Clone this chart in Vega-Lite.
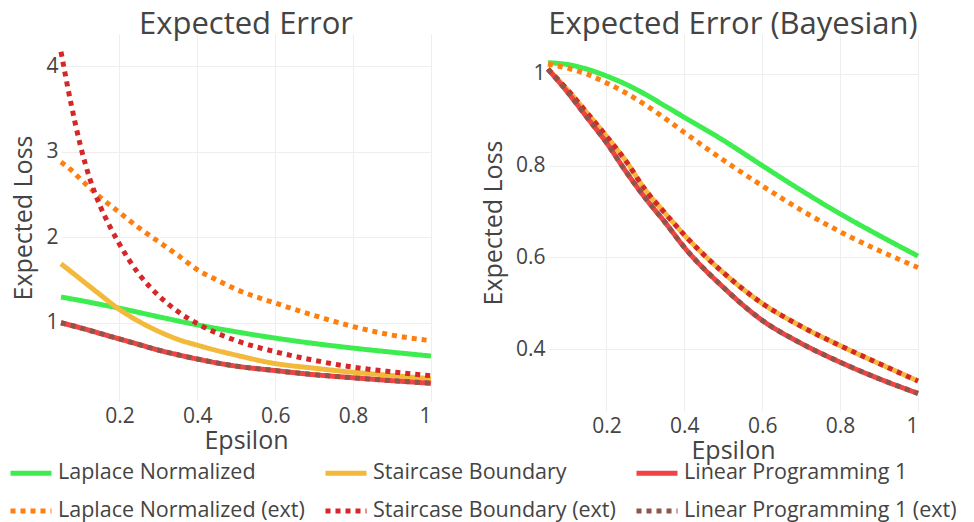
{
  "$schema": "https://vega.github.io/schema/vega-lite/v6.json",
  "padding": {"left": 8, "top": 9, "right": 4, "bottom": 0},
  "background": "white",
  "config": {
    "font": "Open Sans",
    "view": {"stroke": null},
    "axis": {"labelFont": "Open Sans", "labelFontSize": 21, "labelColor": "#444", "titleFont": "Open Sans", "titleFontSize": 25, "titleFontWeight": "normal", "titleColor": "#444", "gridColor": "#eeeeee", "gridWidth": 1, "domain": false, "ticks": false, "labelPadding": 4},
    "axisX": {"titlePadding": 2},
    "axisY": {"titlePadding": 9, "labelPadding": 3},
    "title": {"font": "Open Sans", "fontSize": 31, "fontWeight": "normal", "color": "#444", "frame": "group", "anchor": "middle", "baseline": "alphabetic", "offset": -7}
  },
  "datasets": {
    "d": [
      {"p": "std", "s": "Laplace Normalized", "e": 0.05, "v": 1.30},
      {"p": "std", "s": "Laplace Normalized", "e": 0.1, "v": 1.26},
      {"p": "std", "s": "Laplace Normalized", "e": 0.15, "v": 1.215},
      {"p": "std", "s": "Laplace Normalized", "e": 0.2, "v": 1.17},
      {"p": "std", "s": "Laplace Normalized", "e": 0.3, "v": 1.07},
      {"p": "std", "s": "Laplace Normalized", "e": 0.4, "v": 0.975},
      {"p": "std", "s": "Laplace Normalized", "e": 0.5, "v": 0.893},
      {"p": "std", "s": "Laplace Normalized", "e": 0.6, "v": 0.82},
      {"p": "std", "s": "Laplace Normalized", "e": 0.7, "v": 0.757},
      {"p": "std", "s": "Laplace Normalized", "e": 0.8, "v": 0.703},
      {"p": "std", "s": "Laplace Normalized", "e": 0.9, "v": 0.655},
      {"p": "std", "s": "Laplace Normalized", "e": 1.0, "v": 0.61},

      {"p": "std", "s": "Staircase Boundary", "e": 0.05, "v": 1.69},
      {"p": "std", "s": "Staircase Boundary", "e": 0.1, "v": 1.51},
      {"p": "std", "s": "Staircase Boundary", "e": 0.15, "v": 1.33},
      {"p": "std", "s": "Staircase Boundary", "e": 0.2, "v": 1.155},
      {"p": "std", "s": "Staircase Boundary", "e": 0.25, "v": 1.015},
      {"p": "std", "s": "Staircase Boundary", "e": 0.3, "v": 0.90},
      {"p": "std", "s": "Staircase Boundary", "e": 0.35, "v": 0.805},
      {"p": "std", "s": "Staircase Boundary", "e": 0.4, "v": 0.737},
      {"p": "std", "s": "Staircase Boundary", "e": 0.5, "v": 0.62},
      {"p": "std", "s": "Staircase Boundary", "e": 0.6, "v": 0.522},
      {"p": "std", "s": "Staircase Boundary", "e": 0.7, "v": 0.468},
      {"p": "std", "s": "Staircase Boundary", "e": 0.8, "v": 0.42},
      {"p": "std", "s": "Staircase Boundary", "e": 0.9, "v": 0.382},
      {"p": "std", "s": "Staircase Boundary", "e": 1.0, "v": 0.345},

      {"p": "std", "s": "Linear Programming 1", "e": 0.05, "v": 1.0},
      {"p": "std", "s": "Linear Programming 1", "e": 0.1, "v": 0.94},
      {"p": "std", "s": "Linear Programming 1", "e": 0.15, "v": 0.875},
      {"p": "std", "s": "Linear Programming 1", "e": 0.2, "v": 0.81},
      {"p": "std", "s": "Linear Programming 1", "e": 0.25, "v": 0.745},
      {"p": "std", "s": "Linear Programming 1", "e": 0.3, "v": 0.68},
      {"p": "std", "s": "Linear Programming 1", "e": 0.35, "v": 0.625},
      {"p": "std", "s": "Linear Programming 1", "e": 0.4, "v": 0.575},
      {"p": "std", "s": "Linear Programming 1", "e": 0.5, "v": 0.492},
      {"p": "std", "s": "Linear Programming 1", "e": 0.6, "v": 0.44},
      {"p": "std", "s": "Linear Programming 1", "e": 0.7, "v": 0.392},
      {"p": "std", "s": "Linear Programming 1", "e": 0.8, "v": 0.356},
      {"p": "std", "s": "Linear Programming 1", "e": 0.9, "v": 0.322},
      {"p": "std", "s": "Linear Programming 1", "e": 1.0, "v": 0.292},

      {"p": "std", "s": "Laplace Normalized (ext)", "e": 0.05, "v": 2.88},
      {"p": "std", "s": "Laplace Normalized (ext)", "e": 0.075, "v": 2.79},
      {"p": "std", "s": "Laplace Normalized (ext)", "e": 0.1, "v": 2.68},
      {"p": "std", "s": "Laplace Normalized (ext)", "e": 0.15, "v": 2.47},
      {"p": "std", "s": "Laplace Normalized (ext)", "e": 0.2, "v": 2.29},
      {"p": "std", "s": "Laplace Normalized (ext)", "e": 0.25, "v": 2.11},
      {"p": "std", "s": "Laplace Normalized (ext)", "e": 0.3, "v": 1.95},
      {"p": "std", "s": "Laplace Normalized (ext)", "e": 0.35, "v": 1.79},
      {"p": "std", "s": "Laplace Normalized (ext)", "e": 0.4, "v": 1.62},
      {"p": "std", "s": "Laplace Normalized (ext)", "e": 0.45, "v": 1.50},
      {"p": "std", "s": "Laplace Normalized (ext)", "e": 0.5, "v": 1.39},
      {"p": "std", "s": "Laplace Normalized (ext)", "e": 0.6, "v": 1.23},
      {"p": "std", "s": "Laplace Normalized (ext)", "e": 0.7, "v": 1.085},
      {"p": "std", "s": "Laplace Normalized (ext)", "e": 0.8, "v": 0.955},
      {"p": "std", "s": "Laplace Normalized (ext)", "e": 0.9, "v": 0.855},
      {"p": "std", "s": "Laplace Normalized (ext)", "e": 1.0, "v": 0.79},

      {"p": "std", "s": "Staircase Boundary (ext)", "e": 0.05, "v": 4.17},
      {"p": "std", "s": "Staircase Boundary (ext)", "e": 0.075, "v": 3.58},
      {"p": "std", "s": "Staircase Boundary (ext)", "e": 0.1, "v": 3.07},
      {"p": "std", "s": "Staircase Boundary (ext)", "e": 0.125, "v": 2.67},
      {"p": "std", "s": "Staircase Boundary (ext)", "e": 0.15, "v": 2.37},
      {"p": "std", "s": "Staircase Boundary (ext)", "e": 0.175, "v": 2.13},
      {"p": "std", "s": "Staircase Boundary (ext)", "e": 0.2, "v": 1.92},
      {"p": "std", "s": "Staircase Boundary (ext)", "e": 0.25, "v": 1.57},
      {"p": "std", "s": "Staircase Boundary (ext)", "e": 0.3, "v": 1.32},
      {"p": "std", "s": "Staircase Boundary (ext)", "e": 0.35, "v": 1.13},
      {"p": "std", "s": "Staircase Boundary (ext)", "e": 0.4, "v": 0.99},
      {"p": "std", "s": "Staircase Boundary (ext)", "e": 0.5, "v": 0.79},
      {"p": "std", "s": "Staircase Boundary (ext)", "e": 0.6, "v": 0.66},
      {"p": "std", "s": "Staircase Boundary (ext)", "e": 0.7, "v": 0.56},
      {"p": "std", "s": "Staircase Boundary (ext)", "e": 0.8, "v": 0.48},
      {"p": "std", "s": "Staircase Boundary (ext)", "e": 0.9, "v": 0.425},
      {"p": "std", "s": "Staircase Boundary (ext)", "e": 1.0, "v": 0.38},

      {"p": "std", "s": "Linear Programming 1 (ext)", "e": 0.05, "v": 1.0},
      {"p": "std", "s": "Linear Programming 1 (ext)", "e": 0.1, "v": 0.94},
      {"p": "std", "s": "Linear Programming 1 (ext)", "e": 0.15, "v": 0.875},
      {"p": "std", "s": "Linear Programming 1 (ext)", "e": 0.2, "v": 0.81},
      {"p": "std", "s": "Linear Programming 1 (ext)", "e": 0.25, "v": 0.745},
      {"p": "std", "s": "Linear Programming 1 (ext)", "e": 0.3, "v": 0.68},
      {"p": "std", "s": "Linear Programming 1 (ext)", "e": 0.35, "v": 0.625},
      {"p": "std", "s": "Linear Programming 1 (ext)", "e": 0.4, "v": 0.575},
      {"p": "std", "s": "Linear Programming 1 (ext)", "e": 0.5, "v": 0.492},
      {"p": "std", "s": "Linear Programming 1 (ext)", "e": 0.6, "v": 0.44},
      {"p": "std", "s": "Linear Programming 1 (ext)", "e": 0.7, "v": 0.392},
      {"p": "std", "s": "Linear Programming 1 (ext)", "e": 0.8, "v": 0.356},
      {"p": "std", "s": "Linear Programming 1 (ext)", "e": 0.9, "v": 0.322},
      {"p": "std", "s": "Linear Programming 1 (ext)", "e": 1.0, "v": 0.292},

      {"p": "bayes", "s": "Laplace Normalized", "e": 0.05, "v": 1.024},
      {"p": "bayes", "s": "Laplace Normalized", "e": 0.1, "v": 1.02},
      {"p": "bayes", "s": "Laplace Normalized", "e": 0.15, "v": 1.01},
      {"p": "bayes", "s": "Laplace Normalized", "e": 0.2, "v": 0.995},
      {"p": "bayes", "s": "Laplace Normalized", "e": 0.25, "v": 0.977},
      {"p": "bayes", "s": "Laplace Normalized", "e": 0.3, "v": 0.955},
      {"p": "bayes", "s": "Laplace Normalized", "e": 0.35, "v": 0.93},
      {"p": "bayes", "s": "Laplace Normalized", "e": 0.4, "v": 0.905},
      {"p": "bayes", "s": "Laplace Normalized", "e": 0.5, "v": 0.855},
      {"p": "bayes", "s": "Laplace Normalized", "e": 0.6, "v": 0.80},
      {"p": "bayes", "s": "Laplace Normalized", "e": 0.7, "v": 0.746},
      {"p": "bayes", "s": "Laplace Normalized", "e": 0.8, "v": 0.695},
      {"p": "bayes", "s": "Laplace Normalized", "e": 0.9, "v": 0.648},
      {"p": "bayes", "s": "Laplace Normalized", "e": 1.0, "v": 0.603},

      {"p": "bayes", "s": "Staircase Boundary", "e": 0.05, "v": 1.01},
      {"p": "bayes", "s": "Staircase Boundary", "e": 0.1, "v": 0.965},
      {"p": "bayes", "s": "Staircase Boundary", "e": 0.15, "v": 0.915},
      {"p": "bayes", "s": "Staircase Boundary", "e": 0.2, "v": 0.864},
      {"p": "bayes", "s": "Staircase Boundary", "e": 0.25, "v": 0.81},
      {"p": "bayes", "s": "Staircase Boundary", "e": 0.3, "v": 0.747},
      {"p": "bayes", "s": "Staircase Boundary", "e": 0.35, "v": 0.697},
      {"p": "bayes", "s": "Staircase Boundary", "e": 0.4, "v": 0.649},
      {"p": "bayes", "s": "Staircase Boundary", "e": 0.5, "v": 0.567},
      {"p": "bayes", "s": "Staircase Boundary", "e": 0.6, "v": 0.50},
      {"p": "bayes", "s": "Staircase Boundary", "e": 0.7, "v": 0.45},
      {"p": "bayes", "s": "Staircase Boundary", "e": 0.8, "v": 0.408},
      {"p": "bayes", "s": "Staircase Boundary", "e": 0.9, "v": 0.369},
      {"p": "bayes", "s": "Staircase Boundary", "e": 1.0, "v": 0.331},

      {"p": "bayes", "s": "Linear Programming 1", "e": 0.05, "v": 1.01},
      {"p": "bayes", "s": "Linear Programming 1", "e": 0.1, "v": 0.96},
      {"p": "bayes", "s": "Linear Programming 1", "e": 0.15, "v": 0.905},
      {"p": "bayes", "s": "Linear Programming 1", "e": 0.2, "v": 0.85},
      {"p": "bayes", "s": "Linear Programming 1", "e": 0.25, "v": 0.787},
      {"p": "bayes", "s": "Linear Programming 1", "e": 0.3, "v": 0.729},
      {"p": "bayes", "s": "Linear Programming 1", "e": 0.35, "v": 0.677},
      {"p": "bayes", "s": "Linear Programming 1", "e": 0.4, "v": 0.622},
      {"p": "bayes", "s": "Linear Programming 1", "e": 0.5, "v": 0.535},
      {"p": "bayes", "s": "Linear Programming 1", "e": 0.6, "v": 0.463},
      {"p": "bayes", "s": "Linear Programming 1", "e": 0.7, "v": 0.413},
      {"p": "bayes", "s": "Linear Programming 1", "e": 0.8, "v": 0.372},
      {"p": "bayes", "s": "Linear Programming 1", "e": 0.9, "v": 0.336},
      {"p": "bayes", "s": "Linear Programming 1", "e": 1.0, "v": 0.304},

      {"p": "bayes", "s": "Laplace Normalized (ext)", "e": 0.05, "v": 1.021},
      {"p": "bayes", "s": "Laplace Normalized (ext)", "e": 0.1, "v": 1.012},
      {"p": "bayes", "s": "Laplace Normalized (ext)", "e": 0.15, "v": 0.999},
      {"p": "bayes", "s": "Laplace Normalized (ext)", "e": 0.2, "v": 0.98},
      {"p": "bayes", "s": "Laplace Normalized (ext)", "e": 0.25, "v": 0.958},
      {"p": "bayes", "s": "Laplace Normalized (ext)", "e": 0.3, "v": 0.932},
      {"p": "bayes", "s": "Laplace Normalized (ext)", "e": 0.35, "v": 0.903},
      {"p": "bayes", "s": "Laplace Normalized (ext)", "e": 0.4, "v": 0.872},
      {"p": "bayes", "s": "Laplace Normalized (ext)", "e": 0.5, "v": 0.812},
      {"p": "bayes", "s": "Laplace Normalized (ext)", "e": 0.6, "v": 0.756},
      {"p": "bayes", "s": "Laplace Normalized (ext)", "e": 0.7, "v": 0.703},
      {"p": "bayes", "s": "Laplace Normalized (ext)", "e": 0.8, "v": 0.656},
      {"p": "bayes", "s": "Laplace Normalized (ext)", "e": 0.9, "v": 0.615},
      {"p": "bayes", "s": "Laplace Normalized (ext)", "e": 1.0, "v": 0.578},

      {"p": "bayes", "s": "Staircase Boundary (ext)", "e": 0.05, "v": 1.01},
      {"p": "bayes", "s": "Staircase Boundary (ext)", "e": 0.1, "v": 0.965},
      {"p": "bayes", "s": "Staircase Boundary (ext)", "e": 0.15, "v": 0.915},
      {"p": "bayes", "s": "Staircase Boundary (ext)", "e": 0.2, "v": 0.864},
      {"p": "bayes", "s": "Staircase Boundary (ext)", "e": 0.25, "v": 0.81},
      {"p": "bayes", "s": "Staircase Boundary (ext)", "e": 0.3, "v": 0.747},
      {"p": "bayes", "s": "Staircase Boundary (ext)", "e": 0.35, "v": 0.697},
      {"p": "bayes", "s": "Staircase Boundary (ext)", "e": 0.4, "v": 0.649},
      {"p": "bayes", "s": "Staircase Boundary (ext)", "e": 0.5, "v": 0.567},
      {"p": "bayes", "s": "Staircase Boundary (ext)", "e": 0.6, "v": 0.50},
      {"p": "bayes", "s": "Staircase Boundary (ext)", "e": 0.7, "v": 0.45},
      {"p": "bayes", "s": "Staircase Boundary (ext)", "e": 0.8, "v": 0.408},
      {"p": "bayes", "s": "Staircase Boundary (ext)", "e": 0.9, "v": 0.369},
      {"p": "bayes", "s": "Staircase Boundary (ext)", "e": 1.0, "v": 0.331},

      {"p": "bayes", "s": "Linear Programming 1 (ext)", "e": 0.05, "v": 1.01},
      {"p": "bayes", "s": "Linear Programming 1 (ext)", "e": 0.1, "v": 0.96},
      {"p": "bayes", "s": "Linear Programming 1 (ext)", "e": 0.15, "v": 0.905},
      {"p": "bayes", "s": "Linear Programming 1 (ext)", "e": 0.2, "v": 0.85},
      {"p": "bayes", "s": "Linear Programming 1 (ext)", "e": 0.25, "v": 0.787},
      {"p": "bayes", "s": "Linear Programming 1 (ext)", "e": 0.3, "v": 0.729},
      {"p": "bayes", "s": "Linear Programming 1 (ext)", "e": 0.35, "v": 0.677},
      {"p": "bayes", "s": "Linear Programming 1 (ext)", "e": 0.4, "v": 0.622},
      {"p": "bayes", "s": "Linear Programming 1 (ext)", "e": 0.5, "v": 0.535},
      {"p": "bayes", "s": "Linear Programming 1 (ext)", "e": 0.6, "v": 0.463},
      {"p": "bayes", "s": "Linear Programming 1 (ext)", "e": 0.7, "v": 0.413},
      {"p": "bayes", "s": "Linear Programming 1 (ext)", "e": 0.8, "v": 0.372},
      {"p": "bayes", "s": "Linear Programming 1 (ext)", "e": 0.9, "v": 0.336},
      {"p": "bayes", "s": "Linear Programming 1 (ext)", "e": 1.0, "v": 0.304}
    ]
  },
  "spacing": 40,
  "resolve": {"scale": {"x": "independent", "y": "independent", "color": "shared", "strokeDash": "shared"}},
  "hconcat": [
    {
      "title": {"text": "Expected Error"},
      "width": 370,
      "height": 367,
      "data": {"name": "d"},
      "transform": [{"filter": "datum.p === 'std'"}],
      "encoding": {
        "x": {"field": "e", "type": "quantitative", "title": "Epsilon", "scale": {"domain": [0.05, 1], "nice": false, "zero": false}, "axis": {"values": [0.2, 0.4, 0.6, 0.8, 1], "format": "~g"}},
        "y": {"field": "v", "type": "quantitative", "title": "Expected Loss", "scale": {"domain": [0.084, 4.378], "nice": false, "zero": false}, "axis": {"values": [1, 2, 3, 4], "format": "~g"}},
        "color": {"field": "s", "type": "nominal", "scale": {"domain": ["Laplace Normalized", "Staircase Boundary", "Linear Programming 1", "Laplace Normalized (ext)", "Staircase Boundary (ext)", "Linear Programming 1 (ext)"], "range": ["#3ded4f", "#f2b93b", "#f04444", "#ff7f0e", "#d62728", "#8c564b"]}, "legend": {"title": null, "orient": "none", "direction": "horizontal", "legendX": -53, "legendY": 416, "columns": 3, "symbolType": "stroke", "symbolSize": 1681, "symbolStrokeWidth": 5, "labelFont": "Open Sans", "labelFontSize": 21.5, "labelColor": "#444", "labelOffset": 4, "columnPadding": 10, "rowPadding": 4, "labelLimit": 400}},
        "strokeDash": {"field": "s", "type": "nominal", "scale": {"domain": ["Laplace Normalized", "Staircase Boundary", "Linear Programming 1", "Laplace Normalized (ext)", "Staircase Boundary (ext)", "Linear Programming 1 (ext)"], "range": [[1, 0], [1, 0], [1, 0], [5, 5], [5, 5], [5, 5]]}, "legend": {"title": null, "orient": "none", "direction": "horizontal", "legendX": -53, "legendY": 416, "columns": 3, "symbolType": "stroke", "symbolSize": 1681, "symbolStrokeWidth": 5, "labelFont": "Open Sans", "labelFontSize": 21.5, "labelColor": "#444", "labelOffset": 4, "columnPadding": 10, "rowPadding": 4, "labelLimit": 400}}
      },
      "layer": [
        {"transform": [{"filter": "indexof(datum.s, '(ext)') < 0"}], "mark": {"type": "line", "strokeWidth": 5, "interpolate": "monotone"}},
        {"transform": [{"filter": "indexof(datum.s, '(ext)') >= 0"}], "mark": {"type": "line", "strokeWidth": 5, "interpolate": "monotone"}}
      ]
    },
    {
      "title": {"text": "Expected Error (Bayesian)"},
      "width": 370,
      "height": 377,
      "data": {"name": "d"},
      "transform": [{"filter": "datum.p === 'bayes'"}],
      "encoding": {
        "x": {"field": "e", "type": "quantitative", "title": "Epsilon", "scale": {"domain": [0.05, 1], "nice": false, "zero": false}, "axis": {"values": [0.2, 0.4, 0.6, 0.8, 1], "format": "~g"}},
        "y": {"field": "v", "type": "quantitative", "title": "Expected Loss", "scale": {"domain": [0.2657, 1.0864], "nice": false, "zero": false}, "axis": {"values": [0.4, 0.6, 0.8, 1], "format": "~g"}},
        "color": {"field": "s", "type": "nominal", "scale": {"domain": ["Laplace Normalized", "Staircase Boundary", "Linear Programming 1", "Laplace Normalized (ext)", "Staircase Boundary (ext)", "Linear Programming 1 (ext)"], "range": ["#3ded4f", "#f2b93b", "#f04444", "#ff7f0e", "#d62728", "#8c564b"]}, "legend": {"title": null, "orient": "none", "direction": "horizontal", "legendX": -53, "legendY": 416, "columns": 3, "symbolType": "stroke", "symbolSize": 1681, "symbolStrokeWidth": 5, "labelFont": "Open Sans", "labelFontSize": 21.5, "labelColor": "#444", "labelOffset": 4, "columnPadding": 10, "rowPadding": 4, "labelLimit": 400}},
        "strokeDash": {"field": "s", "type": "nominal", "scale": {"domain": ["Laplace Normalized", "Staircase Boundary", "Linear Programming 1", "Laplace Normalized (ext)", "Staircase Boundary (ext)", "Linear Programming 1 (ext)"], "range": [[1, 0], [1, 0], [1, 0], [5, 5], [5, 5], [5, 5]]}, "legend": {"title": null, "orient": "none", "direction": "horizontal", "legendX": -53, "legendY": 416, "columns": 3, "symbolType": "stroke", "symbolSize": 1681, "symbolStrokeWidth": 5, "labelFont": "Open Sans", "labelFontSize": 21.5, "labelColor": "#444", "labelOffset": 4, "columnPadding": 10, "rowPadding": 4, "labelLimit": 400}}
      },
      "layer": [
        {"transform": [{"filter": "indexof(datum.s, '(ext)') < 0"}], "mark": {"type": "line", "strokeWidth": 5, "interpolate": "monotone"}},
        {"transform": [{"filter": "indexof(datum.s, '(ext)') >= 0"}], "mark": {"type": "line", "strokeWidth": 5, "interpolate": "monotone"}}
      ]
    }
  ]
}
